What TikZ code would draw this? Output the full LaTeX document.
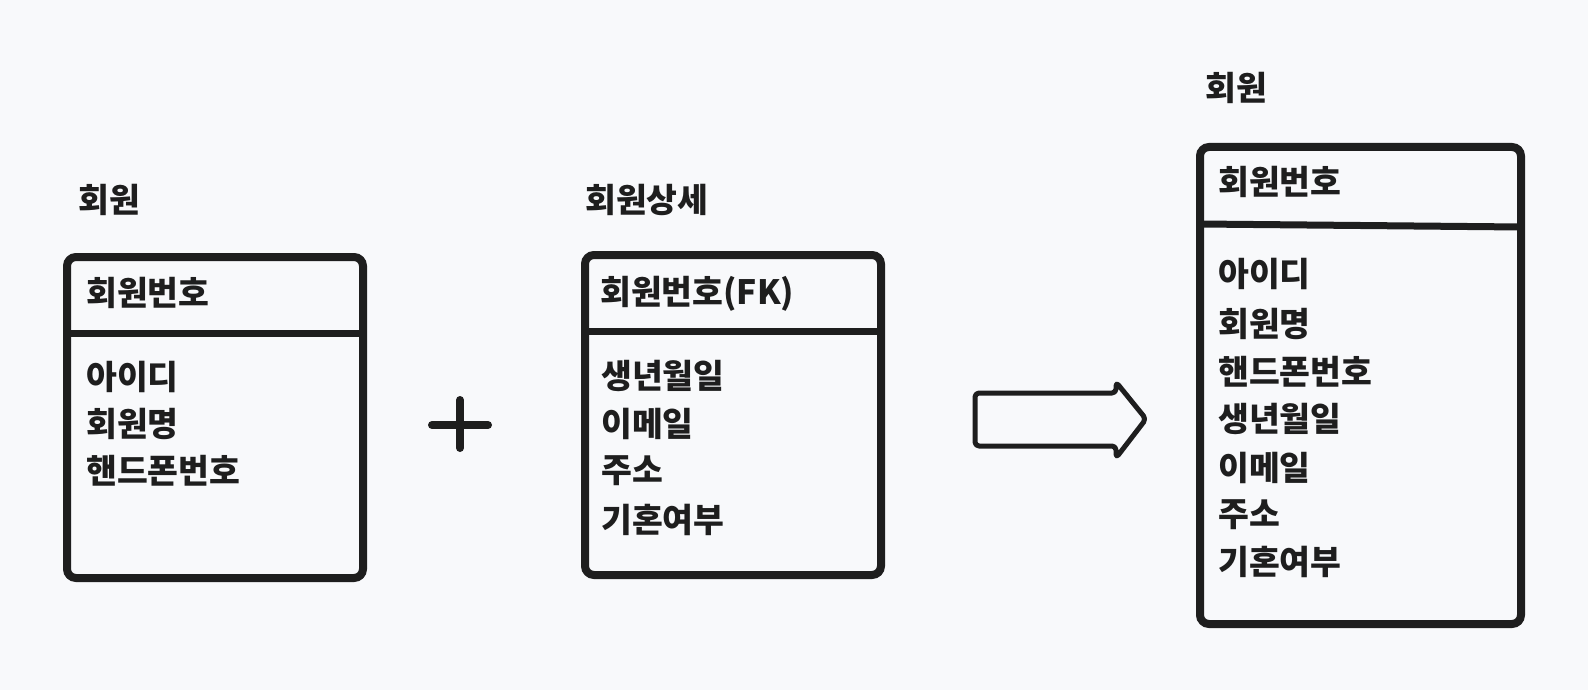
\documentclass[tikz,border=0pt]{standalone}
\usepackage{fontspec}
\newfontfamily\kr{Noto Sans CJK KR}
\definecolor{bg}{HTML}{F8F9FB}
\definecolor{ink}{HTML}{1E1E1E}
\tikzset{
  entitybox/.style={draw=ink, line width=8pt, rounded corners=9pt, minimum width=#1, inner sep=0pt, outer sep=0pt, anchor=north west},
  divider/.style={draw=ink, line width=7pt},
  txt/.style={anchor=west, inner sep=0pt, text=ink, font=\kr\bfseries\fontsize{33.5}{38}\selectfont},
  pluslines/.style={draw=ink, line width=8pt, line cap=round},
  bigarrow/.style={draw=ink, line width=5pt, rounded corners=4pt, line join=round}
}
\begin{document}
\begin{tikzpicture}[x=1pt,y=-1pt]
\useasboundingbox[fill=bg] (0,0) rectangle (1588,690);
% Box 1
\node[txt] (t1) at (78,200) {회원};
\node[entitybox=296pt, minimum height=321pt] (b1) at (67,257) {};
\coordinate (d1l) at (67,333); \coordinate (d1r) at (363,333);
\draw[divider] (d1l) -- (d1r);
\node[txt] (h1) at (86,293) {회원번호};
\node[txt] (f11) at (86,377) {아이디};
\node[txt] (f12) at (86,424) {회원명};
\node[txt] (f13) at (86,471) {핸드폰번호};
% plus
\draw[pluslines] (432,425) -- (488,425);
\draw[pluslines] (460,400) -- (460,448);
% Box 2
\node[txt] (t2) at (585,200) {회원상세};
\node[entitybox=296pt, minimum height=320pt] (b2) at (585,255) {};
\coordinate (d2l) at (585,331); \coordinate (d2r) at (881,331);
\draw[divider] (d2l) -- (d2r);
\node[txt] (h2) at (600,294) {회원번호(FK)};
\node[txt] (f21) at (601,376) {생년월일};
\node[txt] (f22) at (601,424) {이메일};
\node[txt] (f23) at (601,471) {주소};
\node[txt] (f24) at (601,520) {기혼여부};
% arrow
\draw[bigarrow] (975,393) -- (1116,393) -- (1116,382) -- (1146,419) -- (1116,458) -- (1116,446) -- (975,446) -- cycle;
% Box 3
\node[txt] (t3) at (1205,88) {회원};
\node[entitybox=321pt, minimum height=477pt] (b3) at (1200,147) {};
\coordinate (d3l) at (1200,224); \coordinate (d3r) at (1521,227);
\draw[divider] (d3l) -- (d3r);
\node[txt] (h3) at (1218,182) {회원번호};
\node[txt] (f31) at (1218,274) {아이디};
\node[txt] (f32) at (1218,324) {회원명};
\node[txt] (f33) at (1218,372) {핸드폰번호};
\node[txt] (f34) at (1218,419) {생년월일};
\node[txt] (f35) at (1218,468) {이메일};
\node[txt] (f36) at (1218,515) {주소};
\node[txt] (f37) at (1218,562) {기혼여부};
\end{tikzpicture}
\end{document}
